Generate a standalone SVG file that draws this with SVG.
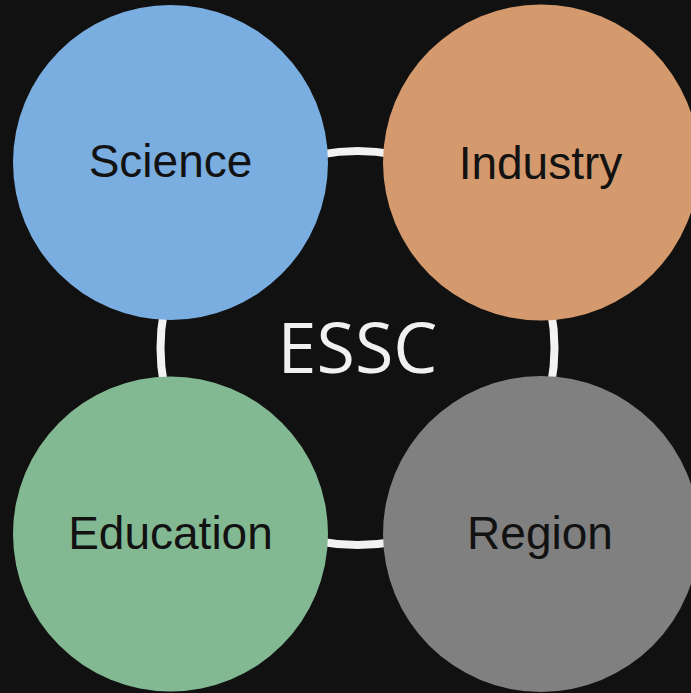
<svg xmlns="http://www.w3.org/2000/svg" width="691" height="693" viewBox="0 0 691 693">
  <style>
    .node-label { font-family: "Liberation Sans", Arial, Helvetica, sans-serif; font-size: 46px; fill: #121212; text-anchor: middle; }
    .hub-label { font-family: "Open Sans", "DejaVu Sans", sans-serif; font-size: 70px; fill: #f0f0f0; text-anchor: middle; }
    .ring { fill: none; stroke: #f2f2f2; stroke-width: 8; }
  </style>
  <rect width="691" height="693" fill="#111111"/>

  <!-- connecting ring behind the four domains -->
  <g id="connectors">
    <circle class="ring" cx="357.5" cy="348" r="197"/>
  </g>

  <g id="hub">
    <text class="hub-label" x="357.5" y="373">ESSC</text>
  </g>

  <g id="science">
    <circle cx="170.5" cy="162.5" r="157.5" fill="#7aade0"/>
    <text class="node-label" x="170.5" y="177">Science</text>
  </g>

  <g id="industry">
    <circle cx="541" cy="162.5" r="158" fill="#d4996c"/>
    <text class="node-label" x="540.5" y="179">Industry</text>
  </g>

  <g id="education">
    <circle cx="170.5" cy="534" r="157.5" fill="#82b892"/>
    <text class="node-label" x="170.5" y="549">Education</text>
  </g>

  <g id="region">
    <circle cx="541" cy="534" r="158" fill="#808080"/>
    <text class="node-label" x="540" y="549">Region</text>
  </g>
</svg>
